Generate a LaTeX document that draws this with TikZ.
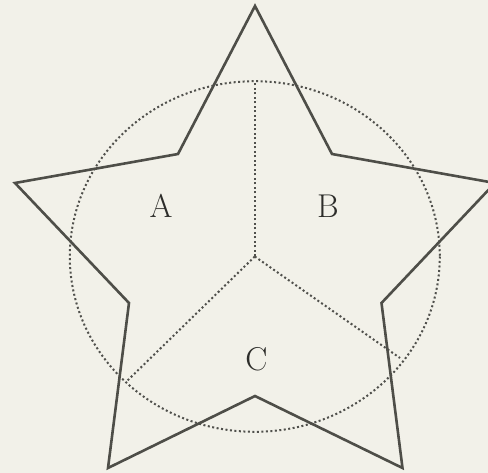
\documentclass[tikz,border=0pt]{standalone}
\usetikzlibrary{calc}
\definecolor{paper}{RGB}{242,241,233}
\definecolor{starcol}{RGB}{78,78,72}
\definecolor{dotcol}{RGB}{80,80,76}
\definecolor{txtcol}{RGB}{45,45,42}
\begin{document}
\begin{tikzpicture}[x=1pt,y=-1pt,
  starline/.style={draw=starcol,line width=2.6pt,line join=miter},
  dotline/.style={draw=dotcol,line width=2pt,dash pattern=on 2pt off 2.5pt},
  lbl/.style={font=\fontsize{33}{33}\selectfont,text=txtcol,inner sep=0pt}]
\fill[paper] (0,0) rectangle (488,473);
\useasboundingbox (0,0) rectangle (488,473);
% star vertices
\coordinate (t) at (255,6);
\coordinate (uri) at (332,154);
\coordinate (r) at (495,183);
\coordinate (ri) at (381.5,303);
\coordinate (br) at (402.5,468);
\coordinate (bi) at (255,396);
\coordinate (bl) at (108,468);
\coordinate (li) at (129,303);
\coordinate (l) at (15,183);
\coordinate (uli) at (178,154);
% circle
\coordinate (O) at (254.8,256.5);
\draw[dotline] (O) ellipse [x radius=185,y radius=175.3];
\coordinate (ptop) at ($(O)+(0,-175.3)$);
\coordinate (pr) at (400,358);
\coordinate (pl) at (126.5,381.5);
\draw[dotline] (O) -- (ptop);
\draw[dotline] (O) -- (pr);
\draw[dotline] (O) -- (pl);
\draw[starline] (t) -- (uri) -- (r) -- (ri) -- (br) -- (bi) -- (bl) -- (li) -- (l) -- (uli) -- cycle;
\node[lbl] (A) at (161,206) {A};
\node[lbl] (B) at (328,206) {B};
\node[lbl] (C) at (256.5,359) {C};
\end{tikzpicture}
\end{document}
